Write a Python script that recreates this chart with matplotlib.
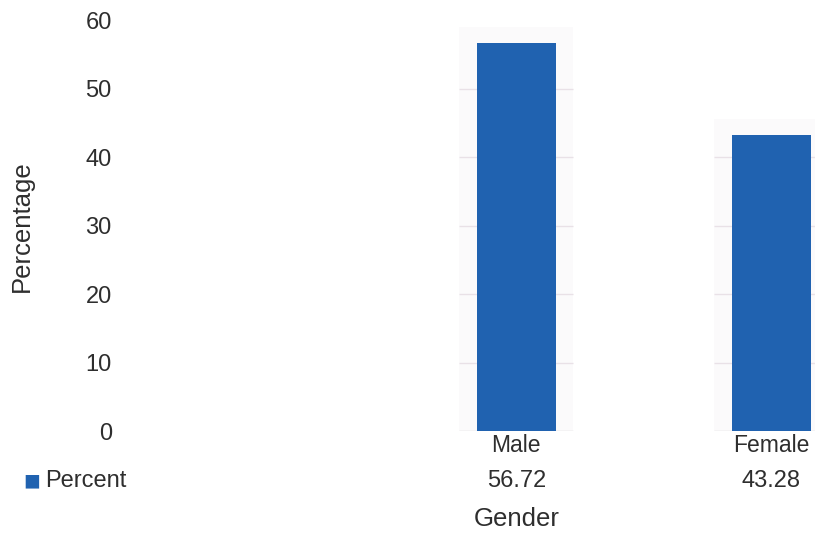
import numpy as np
import matplotlib.pyplot as plt
from matplotlib.transforms import blended_transform_factory

plt.rcParams['font.family'] = ['Liberation Sans', 'DejaVu Sans']

# data
genders = ["Male", "Female"]
percent = [56.72, 43.28]
series_name = "Percent"
yticks = [0, 10, 20, 30, 40, 50, 60]

bar_color = "#2062b0"
text_color = "#2e2e2e"

W, H = 815, 533
fig = plt.figure(figsize=(W / 100, H / 100), dpi=100)
ax = fig.add_axes([125 / W, 1 - 431 / H, 690 / W, 410.5 / H])

x = np.arange(len(genders))
ax.bar(x, percent, width=0.31, color=bar_color, zorder=3)

# light panel behind each bar, grid lines only show inside it
half = 0.223
for xi, v in zip(x, percent):
    top = v + 2.3
    ax.fill_between([xi - half, xi + half], 0, top, color="#fbfafb", lw=0, zorder=0)
    grid = [t for t in yticks[1:] if t < top]
    ax.hlines(grid, xi - half, xi + half, color="#e9e1e7", lw=1, zorder=1)
    ax.hlines(0, xi - half, xi + half, color="#dadada", lw=1, zorder=2)

ax.set_xlim(-1.535, 1.172)
ax.set_ylim(0, 60)
ax.set_yticks(yticks)
ax.set_yticklabels([str(t) for t in yticks], fontsize=17, color=text_color)
ax.set_xticks(x)
ax.set_xticklabels(genders, fontsize=16.5, color=text_color)
ax.tick_params(axis="y", length=0, pad=9.5)
ax.tick_params(axis="x", length=0, pad=2)
for s in ax.spines.values():
    s.set_visible(False)

ax.set_ylabel("Percentage", fontsize=18.5, color=text_color)
ax.yaxis.set_label_coords(-(125 - 34) / 690, 0.5 - (226 - 225.75) / 410.5)

# data table row under the categories
trans = blended_transform_factory(ax.transData, ax.transAxes)
y_row = -(481 - 431) / 410.5
for xi, v in zip(x, percent):
    ax.text(xi, y_row, f"{v:.2f}", transform=trans, ha="center", va="center",
            fontsize=17, color=text_color)
fig.text(45 / W, 1 - 481 / H, series_name, ha="left", va="center",
         fontsize=17, color=text_color)
fig.text(23 / W, 1 - 482 / H, "\u25a0", ha="left", va="center",
         fontsize=20, color=bar_color)

ax.text(0, -(519 - 431) / 410.5, "Gender", transform=trans, ha="center",
        va="center", fontsize=18.5, color=text_color)

fig.savefig("out.png", dpi=100)
